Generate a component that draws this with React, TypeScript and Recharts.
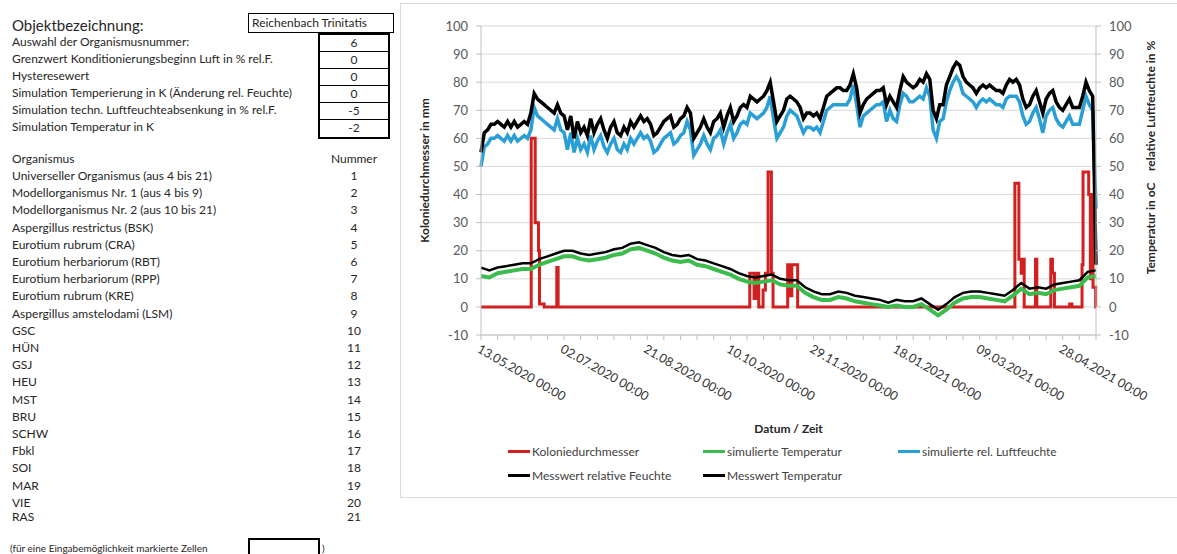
import React from 'react';
import { ComposedChart, Line, XAxis, YAxis, CartesianGrid } from 'recharts';

const FONT = 'Lato, "Open Sans", sans-serif';

// left sheet
const objectName = 'Reichenbach Trinitatis';
const paramLabels = [
  'Auswahl der Organismusnummer:',
  'Grenzwert Konditionierungsbeginn Luft in % rel.F.',
  'Hysteresewert',
  'Simulation Temperierung in K (Änderung rel. Feuchte)',
  'Simulation techn. Luftfeuchteabsenkung in % rel.F.',
  'Simulation Temperatur in K',
];
const paramValues = ['6', '0', '0', '0', '-5', '-2'];
const organisms = [
  'Universeller Organismus (aus 4 bis 21)', 'Modellorganismus Nr. 1 (aus 4 bis 9)',
  'Modellorganismus Nr. 2 (aus 10 bis 21)', 'Aspergillus restrictus (BSK)', 'Eurotium rubrum (CRA)',
  'Eurotium herbariorum (RBT)', 'Eurotium herbariorum (RPP)', 'Eurotium rubrum (KRE)',
  'Aspergillus amstelodami (LSM)', 'GSC', 'HÜN', 'GSJ', 'HEU', 'MST', 'BRU', 'SCHW', 'Fbkl',
  'SOI', 'MAR', 'VIE', 'RAS',
];
const organismNumbers = [1, 2, 3, 4, 5, 6, 7, 8, 9, 10, 11, 12, 13, 14, 15, 16, 17, 18, 19, 20, 21];

// chart: x = days since 13.05.2020
const dayTicks = [0, 10, 20, 30, 40, 50, 60, 70, 80, 90, 100, 110, 120, 130, 140, 150, 160, 170, 180, 190,
  200, 210, 220, 230, 240, 250, 260, 270, 280, 290, 300, 310, 320, 330, 340, 350, 360, 370];
const labelDays = [0, 50, 100, 150, 200, 250, 300, 350];
const dateLabels = ['13.05.2020 00:00', '02.07.2020 00:00', '21.08.2020 00:00', '10.10.2020 00:00',
  '29.11.2020 00:00', '18.01.2021 00:00', '09.03.2021 00:00', '28.04.2021 00:00'];
const yTicks = [-10, 0, 10, 20, 30, 40, 50, 60, 70, 80, 90, 100];

// relative humidity, every 2 days
const rhMeasured = [
  55, 62, 63, 65, 65, 66, 65, 64, 66, 64,
  66, 64, 65, 66, 65, 69, 76, 74, 73, 72,
  71, 70, 69, 72, 69, 68, 63, 68, 60, 66,
  62, 64, 61, 67, 62, 65, 67, 63, 60, 64,
  66, 62, 61, 64, 62, 66, 64, 66, 68, 66,
  67, 65, 61, 62, 64, 66, 67, 68, 64, 65,
  67, 68, 71, 69, 60, 62, 64, 67, 64, 62,
  66, 67, 69, 64, 68, 71, 66, 68, 71, 72,
  71, 75, 74, 73, 74, 75, 77, 80, 73, 66,
  68, 70, 74, 75, 74, 73, 71, 67, 69, 69,
  68, 69, 67, 71, 75, 76, 77, 78, 78, 77,
  77, 79, 83, 78, 69, 72, 74, 75, 76, 77,
  77, 78, 72, 75, 73, 71, 77, 82, 80, 79,
  78, 79, 81, 80, 83, 81, 70, 67, 72, 72,
  79, 82, 85, 87, 86, 82, 80, 79, 78, 76,
  78, 79, 78, 79, 78, 77, 77, 76, 79, 81,
  80, 81, 79, 74, 71, 72, 75, 77, 73, 69,
  74, 76, 77, 73, 71, 70, 72, 74, 71, 71,
  71, 75, 80, 77, 75, 15,
];
const rhSimulated = [
  50, 57, 58, 60, 60, 61, 60, 59, 61, 59,
  61, 59, 60, 61, 60, 63, 71, 68, 67, 66,
  65, 64, 63, 67, 63, 62, 56, 62, 55, 60,
  56, 58, 55, 61, 56, 59, 61, 57, 55, 58,
  60, 56, 55, 58, 56, 60, 58, 60, 62, 60,
  61, 59, 55, 56, 58, 60, 61, 62, 58, 59,
  61, 62, 66, 63, 54, 56, 58, 61, 58, 56,
  60, 61, 63, 58, 62, 65, 60, 62, 65, 66,
  65, 69, 68, 67, 68, 69, 71, 75, 67, 60,
  62, 64, 68, 70, 69, 68, 65, 62, 64, 64,
  63, 64, 62, 66, 70, 71, 72, 72, 72, 72,
  72, 74, 79, 72, 64, 68, 69, 70, 71, 72,
  72, 73, 66, 70, 67, 66, 72, 76, 75, 73,
  73, 74, 75, 74, 78, 75, 63, 60, 66, 67,
  73, 77, 80, 82, 80, 76, 75, 74, 73, 71,
  73, 74, 73, 74, 73, 72, 72, 71, 74, 75,
  75, 75, 73, 68, 65, 66, 69, 71, 67, 62,
  68, 70, 71, 67, 65, 64, 66, 68, 65, 65,
  65, 70, 75, 72, 70, 35,
];

// temperature, every 5 days
const tempMeasured = [
  14, 13, 14, 14.5, 15, 15.5, 15.5, 17, 18, 19,
  20, 20, 19, 18.5, 19, 19.5, 20.5, 21, 22.5, 23,
  22, 21, 19.5, 18.5, 18, 18.5, 17, 16.5, 15.5, 14.5,
  13.5, 12, 11, 10.5, 11, 11.5, 10, 9.5, 9.5, 7,
  5.5, 4.5, 4.5, 5.5, 5, 4, 3.5, 3, 2.5, 1.5,
  2.5, 2, 2, 3, 1, -1, 1, 3.5, 5, 5.5,
  5.5, 5, 4.5, 4, 6, 8.5, 6.5, 7, 6.5, 8,
  8.5, 9, 9.5, 12.5, 13,
];
const tempSimulated = [
  11, 10.5, 12, 12.5, 13, 13.5, 13.5, 15, 16, 17,
  18, 18, 17, 16.5, 17, 17.5, 18.5, 19, 20.5, 21,
  20, 19, 17.5, 16.5, 16, 16.5, 15, 14.5, 13.5, 12.5,
  11.5, 10, 9, 8.5, 9, 9.5, 8, 7.5, 7.5, 5,
  3.5, 2.5, 2.5, 3.5, 3, 2, 1.5, 1, 0.5, 0,
  0.5, 0, 0, 1, -1, -3, -1, 1.5, 3, 3.5,
  3.5, 3, 2.5, 2, 4, 6.5, 4.5, 5, 4.5, 6,
  6.5, 7, 7.5, 10.5, 11,
];

// colony diameter, step changes
const koloDays = [0, 30.2, 32.6, 34.6, 35.2, 38, 45.6, 46.4, 161.7, 164.3, 165.7, 167.1, 169.7, 171.1,
  172.7, 174.7, 175.7, 184.5, 186, 187, 190.5, 321.2, 323.6, 325, 325.8, 326.8, 333.6, 334.4, 342.8,
  343.8, 345, 354.2, 355.5, 361.6, 362.2, 365.6, 366.6, 367.2, 368.2, 369.8, 370];
const koloValues = [0, 60, 30, 20, 1, 0, 14, 0, 12, 3, 12, 0, 6, 12, 48, 12, 0, 15, 4, 15, 0, 44, 17, 12,
  17, 0, 17, 0, 17, 12, 0, 1, 0, 15, 48, 40, 10, 40, 7, 0, 0];

const rhData = rhMeasured.map((v, i) => ({ day: i * 2, measured: v, simulated: rhSimulated[i] }));
const tempData = tempMeasured.map((v, i) => ({ day: i * 5, measured: v, simulated: tempSimulated[i] }));
const koloData = koloDays.map((d, i) => ({ day: d, value: koloValues[i] }));

const legendItems = [
  { name: 'Koloniedurchmesser', color: '#d21f1f' },
  { name: 'simulierte Temperatur', color: '#3cbc4c' },
  { name: 'simulierte rel. Luftfeuchte', color: '#2a9fd6' },
  { name: 'Messwert relative Feuchte', color: '#000' },
  { name: 'Messwert Temperatur', color: '#000' },
];

const DateTick = ({ x, y, payload }: any) => {
  const i = labelDays.indexOf(payload.value);
  if (i < 0) return <g />;
  return (
    <text x={x + 1} y={y} dy={11} transform={`rotate(30 ${x + 1} ${y})`} textAnchor="start"
      fontSize={12.5} fill="#333" fontFamily={FONT}>
      {dateLabels[i]}
    </text>
  );
};

const axisTick = { fontSize: 13, fill: '#595959', fontFamily: FONT };

const Chart = () => (
  <div style={{ position: 'absolute', left: 400, top: 3, width: 777, height: 494 }}>
    <ComposedChart width={777} height={494} margin={{ top: 23, right: 0, left: 0, bottom: 62 }}>
      <CartesianGrid yAxisId="left" vertical={false} stroke="#d9d9d9" />
      <XAxis dataKey="day" type="number" domain={[0, 370]} ticks={dayTicks} interval={0}
        height={100} stroke="#bfbfbf" tickSize={5} tickMargin={2} tick={<DateTick />}
        label={{ value: 'Datum / Zeit', position: 'insideBottom', offset: 2, fontSize: 12,
          fontWeight: 'bold', fill: '#262626', fontFamily: FONT }} />
      <YAxis yAxisId="left" domain={[-10, 100]} ticks={yTicks} interval={0} width={81}
        stroke="#bfbfbf" tickSize={5} tickMargin={8} tick={axisTick}
        label={{ value: 'Koloniedurchmesser in mm', angle: -90, position: 'center', dx: -16, dy: -10,
          fontSize: 12, fontWeight: 'bold', fill: '#262626', fontFamily: FONT }} />
      <YAxis yAxisId="right" orientation="right" domain={[-10, 100]} ticks={yTicks} interval={0}
        width={81} stroke="#bfbfbf" tickSize={5} tickMargin={8} tick={axisTick}
        label={{ value: 'Temperatur in oC\u00a0\u00a0\u00a0\u00a0relative Luftfeuchte in %', angle: -90,
          position: 'center', dx: 14, dy: -23, fontSize: 12, fontWeight: 'bold', fill: '#262626',
          fontFamily: FONT }} />
      <Line yAxisId="left" data={koloData} dataKey="value" type="stepAfter" stroke="#d21f1f"
        strokeWidth={3} dot={false} activeDot={false} isAnimationActive={false} />
      <Line yAxisId="left" data={tempData} dataKey="simulated" type="linear" stroke="#3cbc4c"
        strokeWidth={4} dot={false} activeDot={false} isAnimationActive={false} />
      <Line yAxisId="right" data={rhData} dataKey="simulated" type="linear" stroke="#2a9fd6"
        strokeWidth={3.5} dot={false} activeDot={false} isAnimationActive={false} />
      <Line yAxisId="right" data={rhData} dataKey="measured" type="linear" stroke="#000"
        strokeWidth={3.5} dot={false} activeDot={false} isAnimationActive={false} />
      <Line yAxisId="left" data={tempData} dataKey="measured" type="linear" stroke="#000"
        strokeWidth={2.5} dot={false} activeDot={false} isAnimationActive={false} />
    </ComposedChart>
    <div style={{ position: 'absolute', left: 108, top: 441, width: 600, fontSize: 12, color: '#404040',
      fontFamily: FONT }}>
      {legendItems.map((it, i) => (
        <div key={it.name} style={{ position: 'absolute', left: (i % 3) * 195, top: Math.floor(i / 3) * 24,
          display: 'flex', alignItems: 'center', whiteSpace: 'nowrap' }}>
          <span style={{ display: 'inline-block', width: 22, height: 3, background: it.color, marginRight: 2 }} />
          {it.name}
        </div>
      ))}
    </div>
  </div>
);

const boxTop = 33;
const rowH = 17;

export default function App() {
  return (
    <div style={{ position: 'absolute', left: 0, top: 0, width: 1177, height: 554, overflow: 'hidden',
      background: '#fff', fontFamily: FONT, color: '#262626' }}>
      {/* chart frame */}
      <div style={{ position: 'absolute', left: 400, top: 3, width: 800, height: 493,
        border: '1px solid #d9d9d9' }} />
      <div style={{ position: 'absolute', left: 12, top: 16, fontSize: 15, lineHeight: '18px' }}>
        Objektbezeichnung:
      </div>
      <div style={{ position: 'absolute', left: 248, top: 13, width: 141, height: 18, border: '1px solid #000',
        fontSize: 12, lineHeight: '18px', paddingLeft: 3, boxSizing: 'content-box' }}>
        {objectName}
      </div>
      {paramLabels.map((t, i) => (
        <div key={t} style={{ position: 'absolute', left: 12, top: boxTop + i * rowH, height: rowH,
          lineHeight: `${rowH}px`, fontSize: 12, whiteSpace: 'nowrap' }}>{t}</div>
      ))}
      <div style={{ position: 'absolute', left: 318, top: boxTop, width: 68, height: rowH * 6,
        border: '2px solid #000' }}>
        {paramValues.map((v, i) => (
          <div key={i} style={{ height: i < 5 ? rowH - 1 : rowH - 2, lineHeight: `${rowH - 1}px`,
            borderBottom: i < 5 ? '1px solid #000' : 'none', textAlign: 'center', fontSize: 12 }}>{v}</div>
        ))}
      </div>
      <div style={{ position: 'absolute', left: 12, top: 150, fontSize: 12, lineHeight: '17px' }}>Organismus</div>
      <div style={{ position: 'absolute', left: 330, top: 150, width: 48, textAlign: 'center', fontSize: 12,
        lineHeight: '17px' }}>Nummer</div>
      {organisms.map((o, i) => {
        const top = i < 20 ? 167 + i * 17.2 : 508;
        return (
          <React.Fragment key={o}>
            <div style={{ position: 'absolute', left: 12, top, fontSize: 12, lineHeight: '17px',
              whiteSpace: 'nowrap' }}>{o}</div>
            <div style={{ position: 'absolute', left: 334, top, width: 40, textAlign: 'center', fontSize: 12,
              lineHeight: '17px' }}>{organismNumbers[i]}</div>
          </React.Fragment>
        );
      })}
      <div style={{ position: 'absolute', left: 10, top: 542, fontSize: 10, lineHeight: '12px',
        whiteSpace: 'nowrap' }}>(für eine Eingabemöglichkeit markierte Zellen</div>
      <div style={{ position: 'absolute', left: 248, top: 538, width: 68, height: 20, border: '2px solid #000' }} />
      <div style={{ position: 'absolute', left: 322, top: 542, fontSize: 10, lineHeight: '12px' }}>)</div>
      <Chart />
    </div>
  );
}
